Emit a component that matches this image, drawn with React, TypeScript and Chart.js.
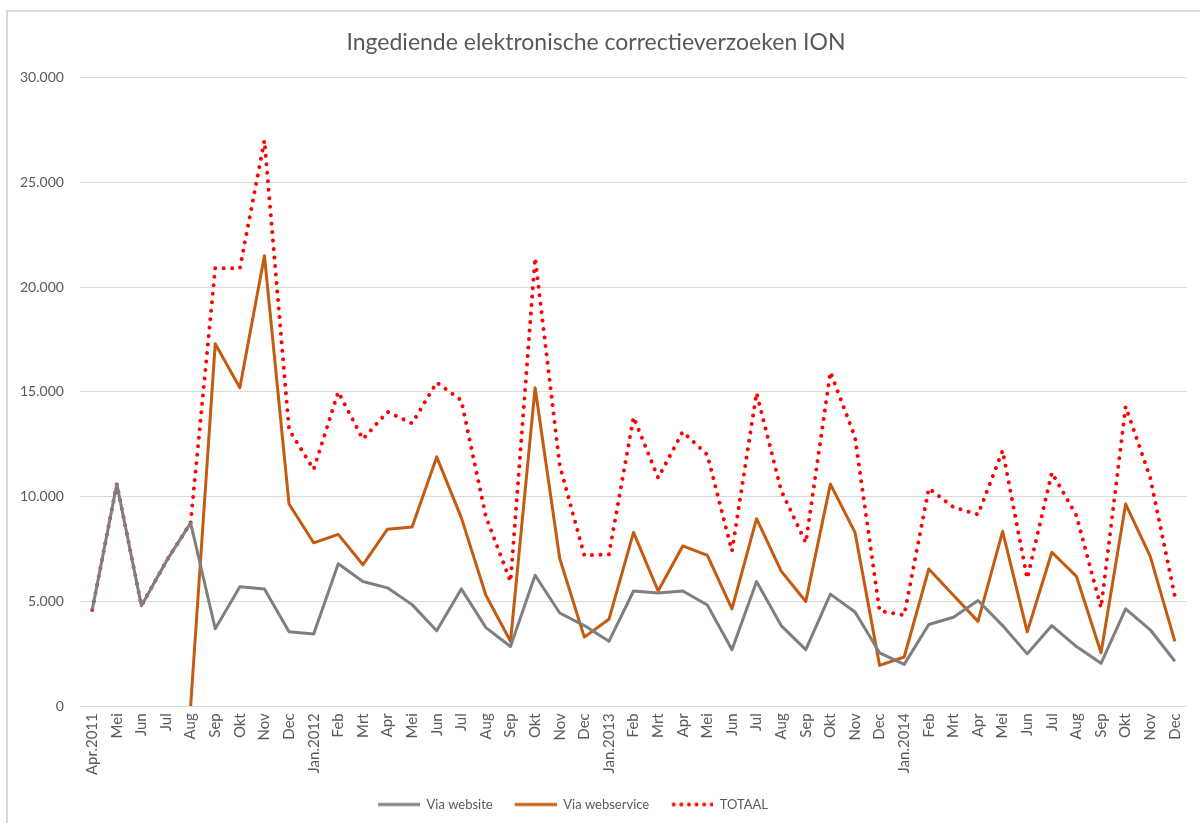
import React, { useEffect, useRef } from "react";
import { Chart, registerables } from "chart.js";

Chart.register(...registerables);

const categories: string[] = [
  "Apr.2011", "Mei", "Jun", "Jul", "Aug", "Sep", "Okt", "Nov", "Dec",
  "Jan.2012", "Feb", "Mrt", "Apr", "Mei", "Jun", "Jul", "Aug", "Sep", "Okt", "Nov", "Dec",
  "Jan.2013", "Feb", "Mrt", "Apr", "Mei", "Jun", "Jul", "Aug", "Sep", "Okt", "Nov", "Dec",
  "Jan.2014", "Feb", "Mrt", "Apr", "Mei", "Jun", "Jul", "Aug", "Sep", "Okt", "Nov", "Dec",
];

const viaWebsite: number[] = [
  4600, 10600, 4800, 6900, 8750, 3700, 5700, 5600, 3550,
  3450, 6800, 5950, 5650, 4850, 3600, 5600, 3750, 2850, 6250, 4450, 3850,
  3100, 5500, 5400, 5500, 4830, 2700, 5950, 3850, 2700, 5350, 4500, 2550,
  2000, 3900, 4250, 5050, 3850, 2500, 3850, 2850, 2050, 4650, 3650, 2150,
];

const viaWebservice: (number | null)[] = [
  null, null, null, null, 0, 17300, 15200, 21500, 9650,
  7800, 8200, 6750, 8450, 8550, 11900, 9000, 5300, 3100, 15200, 7050, 3300,
  4150, 8300, 5500, 7650, 7200, 4650, 8950, 6450, 5000, 10600, 8300, 1950,
  2350, 6550, 5300, 4050, 8350, 3550, 7350, 6200, 2550, 9650, 7150, 3100,
];

const totaal: number[] = [
  4600, 10600, 4800, 6900, 8750, 20900, 20900, 27000, 13200,
  11300, 15000, 12750, 14050, 13500, 15450, 14600, 9050, 5950, 21400, 11500, 7200,
  7250, 13800, 10900, 13100, 12000, 7400, 14950, 10300, 7800, 15950, 12850, 4550,
  4350, 10400, 9500, 9150, 12200, 6100, 11150, 9100, 4700, 14300, 10900, 5250,
];

const yTicks: number[] = [0, 5000, 10000, 15000, 20000, 25000, 30000];

const seriesNames = ["Via website", "Via webservice", "TOTAAL"];
const titleText = "Ingediende elektronische correctieverzoeken ION";

function fmt(v: number): string {
  if (v === 0) return "0";
  const s = String(Math.round(v));
  return s.replace(/\B(?=(\d{3})+(?!\d))/g, ".");
}

const SAMPLE_W = 48;
const SAMPLE_LEAD = 6;

function legendSample(color: string, width: number, dotted: boolean): HTMLCanvasElement {
  const c = document.createElement("canvas");
  c.width = SAMPLE_W;
  c.height = 8;
  const ctx = c.getContext("2d")!;
  ctx.strokeStyle = color;
  ctx.lineWidth = width;
  if (dotted) {
    ctx.lineCap = "round";
    ctx.setLineDash([0.01, 7.6]);
    ctx.beginPath();
    ctx.moveTo(SAMPLE_LEAD + 2.5, 4);
    ctx.lineTo(SAMPLE_W - 1, 4);
    ctx.stroke();
  } else {
    ctx.lineCap = "butt";
    ctx.beginPath();
    ctx.moveTo(SAMPLE_LEAD, 4);
    ctx.lineTo(SAMPLE_W, 4);
    ctx.stroke();
  }
  return c;
}

const shiftLegend = {
  id: "shiftLegend",
  afterLayout(chart: any) {
    if (chart.legend) {
      chart.legend.left -= 26;
      chart.legend.right -= 26;
    }
  },
};

export default function App() {
  const ref = useRef<HTMLCanvasElement | null>(null);

  useEffect(() => {
    if (!ref.current) return;
    const FONT = "Lato";
    const chart = new Chart(ref.current, {
      type: "line",
      data: {
        labels: categories,
        datasets: [
          {
            label: seriesNames[0],
            data: viaWebsite,
            borderColor: "#7F7F7F",
            backgroundColor: "#7F7F7F",
            borderWidth: 3,
            pointRadius: 0,
            pointStyle: legendSample("#7F7F7F", 3, false) as any,
            tension: 0,
            borderJoinStyle: "round",
          },
          {
            label: seriesNames[1],
            data: viaWebservice,
            borderColor: "#C55A11",
            backgroundColor: "#C55A11",
            borderWidth: 3,
            pointRadius: 0,
            pointStyle: legendSample("#C55A11", 3, false) as any,
            tension: 0,
            borderJoinStyle: "round",
          },
          {
            label: seriesNames[2],
            data: totaal,
            borderColor: "#FF0000",
            backgroundColor: "#FF0000",
            borderWidth: 4,
            borderDash: [0.01, 8.5],
            borderCapStyle: "round",
            pointRadius: 0,
            pointStyle: legendSample("#FF0000", 4, true) as any,
            tension: 0,
          },
        ],
      },
      options: {
        animation: false,
        responsive: false,
        maintainAspectRatio: false,
        layout: { padding: { left: 4, right: 12, top: 0, bottom: 2 } },
        plugins: {
          title: {
            display: true,
            text: titleText,
            color: "#595959",
            font: { family: FONT, size: 23, weight: "normal" },
            padding: { top: 29, bottom: 21 },
          },
          legend: {
            display: true,
            position: "bottom",
            labels: {
              color: "#595959",
              font: { family: FONT, size: 13 },
              usePointStyle: true,
              pointStyleWidth: SAMPLE_W,
              boxWidth: SAMPLE_W,
              boxHeight: 8,
              padding: 16,
            },
          },
          tooltip: { enabled: false },
        },
        scales: {
          x: {
            type: "category",
            offset: true,
            grid: { display: false, drawTicks: false },
            border: { display: false },
            ticks: {
              color: "#595959",
              font: { family: FONT, size: 15 },
              maxRotation: 90,
              minRotation: 90,
              autoSkip: false,
              padding: 7,
            },
          },
          y: {
            min: 0,
            max: 30000,
            afterBuildTicks: (axis: any) => {
              axis.ticks = yTicks.map((v) => ({ value: v }));
            },
            grid: { color: "#D9D9D9", lineWidth: 1, drawTicks: false },
            border: { display: false },
            ticks: {
              color: "#595959",
              font: { family: FONT, size: 14 },
              padding: 16,
              callback: (v: any) => fmt(Number(v)),
            },
          },
        },
      },
      plugins: [shiftLegend],
    });
    return () => chart.destroy();
  }, []);

  return (
    <div style={{ position: "fixed", left: 0, top: 0, width: 1200, height: 823, background: "#fff", overflow: "hidden" }}>
      <div
        style={{
          position: "absolute",
          left: 6,
          top: 10,
          width: 1400,
          height: 1000,
          border: "2px solid #D9D9D9",
          boxSizing: "border-box",
        }}
      />
      <canvas ref={ref} width={1200} height={823} style={{ position: "absolute", left: 0, top: 0, width: 1200, height: 823 }} />
    </div>
  );
}
